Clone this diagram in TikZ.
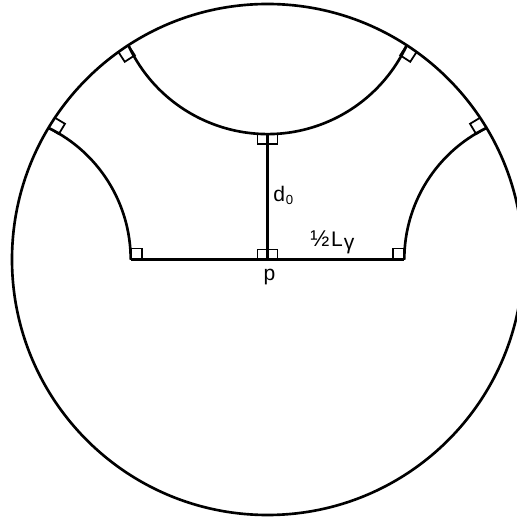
\documentclass[tikz,border=0pt]{standalone}
\usepackage{fontspec}
\setmainfont{Liberation Sans}
\begin{document}
\begin{tikzpicture}[x=0.02cm,y=0.02cm,
  geo/.style={line width=1.5pt},
  rmark/.style={line width=1pt},
  lbl/.style={font=\fontsize{12}{14}\selectfont, inner sep=0pt}]
\useasboundingbox (0,0) rectangle (517,517);
\clip (0,0) rectangle (517,517);
% key points
\coordinate (O) at (267.5,257.5);
\coordinate (Q) at (267.5,383);
\coordinate (A) at (130.7,257.5);
\coordinate (B) at (404.3,257.5);
\coordinate (TL) at (128.3,471.8);
\coordinate (TR) at (406.7,471.8);
\coordinate (LJ) at (48.5,389.1);
\coordinate (RJ) at (486.5,389.1);
% boundary circle
\draw[geo] (O) circle[radius=255.5];
% geodesics
\draw[geo] (TL) arc[start angle=204.9, end angle=335.1, radius=153.5];
\draw[geo] (A) arc[start angle=0, end angle=63.97, radius=146.45];
\draw[geo] (B) arc[start angle=180, end angle=116.03, radius=146.45];
\draw[geo] (A) -- (B);
\draw[geo] (O) -- (Q);
% right-angle marks
\draw[rmark] (O) rectangle ++(-10,10);
\draw[rmark] (O) rectangle ++(10,10);
\draw[rmark] (Q) rectangle ++(-10,-10);
\draw[rmark] (Q) rectangle ++(10,-10);
\draw[rmark] (A) rectangle ++(11,11);
\draw[rmark] (B) rectangle ++(-11,11);
\begin{scope}[shift={(TL)}, rotate=123]
  \draw[rmark] (0,0) -- (-12,0) -- (-12,12) -- (0,12);
\end{scope}
\begin{scope}[shift={(TR)}, rotate=57]
  \draw[rmark] (0,0) -- (-12,0) -- (-12,-12) -- (0,-12);
\end{scope}
\begin{scope}[shift={(LJ)}, rotate=149]
  \draw[rmark] (0,0) -- (-12,0) -- (-12,-12) -- (0,-12);
\end{scope}
\begin{scope}[shift={(RJ)}, rotate=31]
  \draw[rmark] (0,0) -- (-12,0) -- (-12,12) -- (0,12);
\end{scope}
% labels
\node[lbl, anchor=base west] (d0) at (273,315) {d\kern0.5pt\raisebox{-1.6pt}{\fontsize{7.5}{8}\selectfont 0}};
\node[lbl, anchor=base west] (half) at (310,270) {{\fontsize{13}{13}\selectfont ½}\kern1pt L\kern0.5pt\raisebox{-1.2pt}{γ}};
\node[lbl, anchor=base] (p) at (269.5,236) {p};
\end{tikzpicture}
\end{document}
